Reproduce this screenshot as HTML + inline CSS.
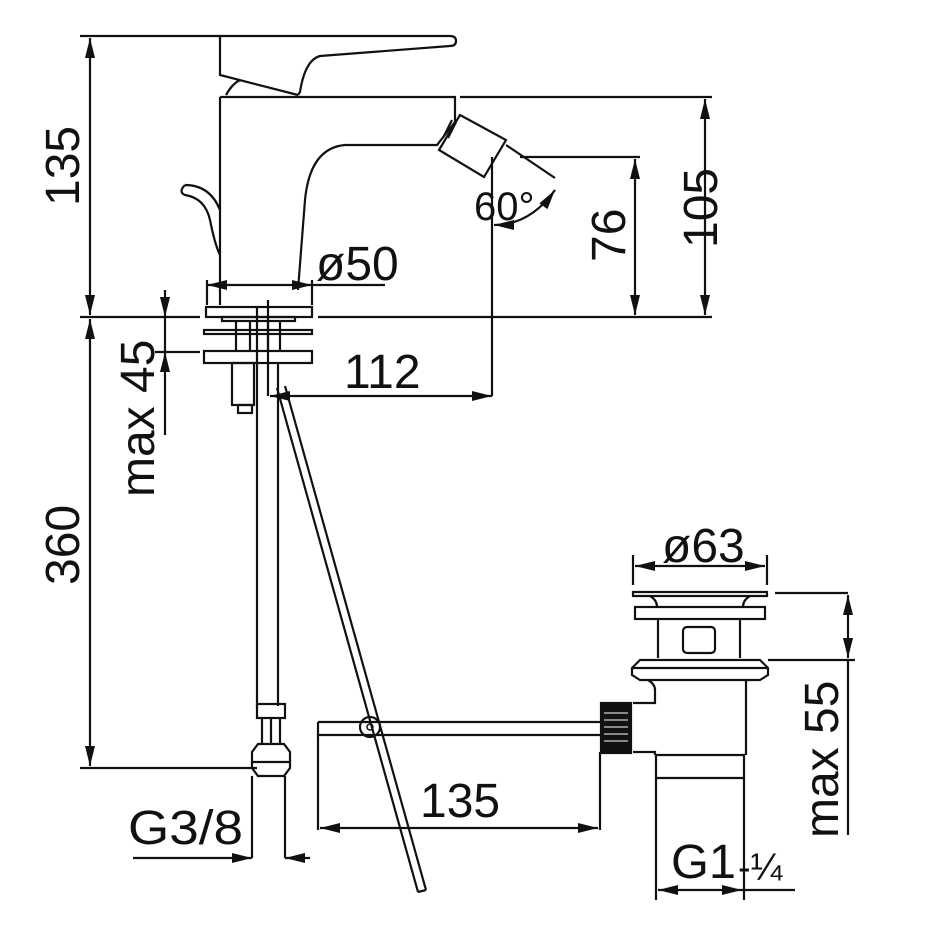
<!DOCTYPE html>
<html><head><meta charset="utf-8"><style>
html,body{margin:0;padding:0;background:#fff;}
svg{display:block}
text{font-family:"Liberation Sans",sans-serif;fill:#111;}
</style></head><body>
<svg width="950" height="950" viewBox="0 0 950 950" xmlns="http://www.w3.org/2000/svg">
<defs>
<marker id="a" viewBox="0 0 20 10" refX="20" refY="5" markerWidth="20" markerHeight="10" markerUnits="userSpaceOnUse" orient="auto-start-reverse"><path d="M0,0 L20,5 L0,10 Z" fill="#111"/></marker>
</defs>
<g fill="none" stroke="#111" stroke-width="2.2">
<!-- handle -->
<path d="M80,36 H450 Q456,36 456,41 Q456,46 450,46 L320,56 Q305,60 300,92 L298,95 M220,36 V75 L298,95"/>
<path d="M226,95 Q232,84 240,80"/>
<!-- body -->
<path d="M220,97 H455 V122 L437,145 H345 Q310,148 305,200 L298,290"/>
<path d="M220,97 V305"/>
<path d="M460,97 H712"/>
<!-- nozzle -->
<path d="M460,115 L506,140 L484,177 L439,150 Z"/>
<path d="M456,122 L448,138 M452,120 L444,136"/>
<!-- lever -->
<path d="M185,185 Q178,192 185,195 Q205,198 210,220 Q215,245 220,255 M185,185 Q210,185 220,210"/>
<!-- dims right -->
<path d="M520,157 H640"/>
<path d="M705,99 V315" marker-start="url(#a)" marker-end="url(#a)"/>
<path d="M635,159 V315" marker-start="url(#a)" marker-end="url(#a)"/>
<path d="M492,157 V396"/>
<path d="M506,145 L555,178"/>
<path d="M494,225 Q530,225 555,190" marker-start="url(#a)" marker-end="url(#a)"/>
<!-- floor -->
<path d="M80,317 H200 M318,317 H712"/>
<!-- 135 / 360 left -->
<path d="M90,38 V315" marker-start="url(#a)" marker-end="url(#a)"/>
<path d="M90,319 V766" marker-start="url(#a)" marker-end="url(#a)"/>
<path d="M80,768 H257"/>
<!-- max 45 -->
<path d="M165,290 V317" marker-end="url(#a)"/>
<path d="M165,317 V352"/>
<path d="M165,380 V352" marker-end="url(#a)"/>
<path d="M165,380 V435"/>
<path d="M155,352 H200"/>
<!-- ø50 -->
<path d="M207,280 V305 M312,280 V305"/>
<path d="M207,285 H312" marker-start="url(#a)" marker-end="url(#a)"/>
<path d="M312,285 H385"/>
<!-- plates -->
<rect x="206" y="307" width="106" height="10"/>
<rect x="222" y="317" width="73" height="4"/>
<path d="M236,321 V351 M250,321 V351 M268,321 V351 M280,321 V351"/>
<rect x="204" y="330" width="108" height="4"/>
<rect x="204" y="351" width="108" height="12"/>
<rect x="232" y="363" width="22" height="42"/>
<rect x="238" y="405" width="14" height="8"/>
<!-- hoses -->
<path d="M257,307 V706 M278,363 V706"/>
<path d="M268,300 V396"/>
<path d="M277,388 L418,892 M285,386 L426,890 M418,892 L426,890"/>
<!-- 112 -->
<path d="M270,396 H492" marker-start="url(#a)" marker-end="url(#a)"/>
<!-- fitting -->
<rect x="257" y="704" width="28" height="14"/>
<path d="M262,718 V744 M271,718 V744 M280,718 V744"/>
<path d="M252,752 L258,744 H284 L290,752 V768 L284,776 H258 L252,768 Z"/>
<path d="M252,762 H290"/>
<path d="M252,776 V858 M285,776 V858"/>
<path d="M133,858 H252" marker-end="url(#a)"/>
<path d="M310,858 H285" marker-end="url(#a)"/>
<!-- drain pipe -->
<path d="M318,722 H600 M318,735 H600"/>
<circle cx="370" cy="727" r="10"/>
<circle cx="370" cy="727" r="3" stroke-width="1.5"/>
<path d="M318,722 V830 M600,752 V830"/>
<path d="M320,828 H598" marker-start="url(#a)" marker-end="url(#a)"/>
<rect x="601" y="703" width="30" height="50" fill="#111"/>
<path d="M604,713 H628 M604,720 H628 M604,727 H628 M604,734 H628 M604,741 H628" stroke="#fff" stroke-width="1"/>
<!-- drain body -->
<path d="M633,555 V585 M767,555 V585"/>
<path d="M635,566 H765" marker-start="url(#a)" marker-end="url(#a)"/>
<path d="M633,592 H767 V596 H633 Z"/>
<path d="M650,596 Q657,600 657,607 M750,596 Q743,600 743,607"/>
<rect x="635" y="607" width="130" height="12"/>
<path d="M658,619 V658 M740,619 V658"/>
<rect x="683" y="627" width="32" height="26" rx="4"/>
<path d="M640,660 H760 L768,668 V675 L760,680 H640 L632,675 V668 Z"/>
<path d="M633,668 H767"/>
<path d="M648,680 Q655,684 655,690 V703 H633 M633,752 H655 V755 M746,680 V755"/>
<path d="M656,755 H745 M656,755 V900 M744,755 V900 M656,778 H744"/>
<path d="M775,593 H848 M768,660 H855"/>
<path d="M848,595 V658" marker-start="url(#a)" marker-end="url(#a)"/>
<path d="M848,660 V835"/>
<path d="M658,890 H742" marker-start="url(#a)" marker-end="url(#a)"/>
<path d="M742,890 H795"/>
</g>
<g font-size="48">
<text transform="translate(79,206) rotate(-90)">135</text>
<text transform="translate(79,585) rotate(-90)">360</text>
<text transform="translate(154,497) rotate(-90)">max 45</text>
<text transform="translate(625,262) rotate(-90)">76</text>
<text transform="translate(717,248) rotate(-90)">105</text>
<text transform="translate(838,838) rotate(-90)">max 55</text>
<text x="316" y="280">ø50</text>
<text x="344" y="388">112</text>
<text x="420" y="817">135</text>
<text x="662" y="562">ø63</text>
<text x="128" y="844" textLength="115" lengthAdjust="spacingAndGlyphs">G3/8</text>
<text x="671" y="878" textLength="65" lengthAdjust="spacingAndGlyphs">G1</text>
<text x="474" y="220" font-size="40">60°</text>
<text x="738" y="880" font-size="38">-¼</text>
</g>
</svg>
</body></html>
